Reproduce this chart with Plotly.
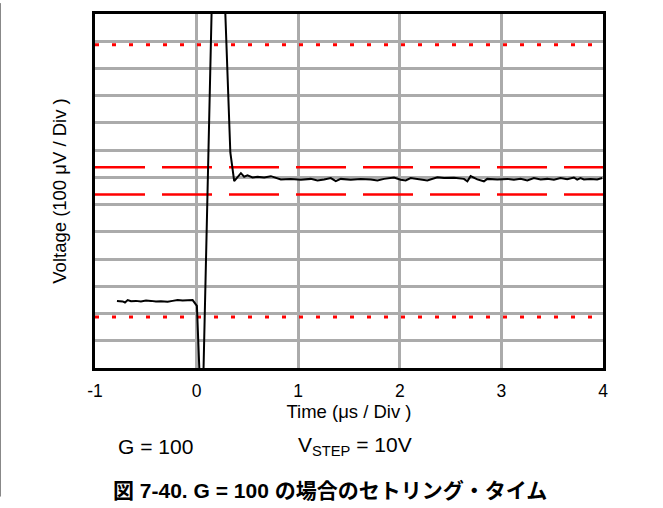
import plotly.graph_objects as go

# Output step response of the amplifier, G = 100, 10 V step.
# Time in microseconds, voltage in microvolts relative to the final value.
time_us = [
    -0.784, -0.728, -0.705, -0.678, -0.646, -0.597, -0.548, -0.498, -0.449,
    -0.400, -0.351, -0.285, -0.236, -0.187, -0.138, -0.088, -0.039,
    0.003, 0.026, 0.053, 0.211, 0.283, 0.332, 0.370,
    0.436, 0.468, 0.501, 0.550, 0.600, 0.665, 0.731, 0.780, 0.829,
    0.927, 1.026, 1.124, 1.190, 1.255, 1.321, 1.370, 1.419, 1.517, 1.616,
    1.714, 1.780, 1.845, 1.943, 2.009, 2.058, 2.107, 2.206, 2.271, 2.370,
    2.435, 2.533, 2.631, 2.665, 2.697, 2.763, 2.828, 2.861, 2.960, 3.058,
    3.123, 3.189, 3.255, 3.320, 3.386, 3.451, 3.517, 3.582, 3.648, 3.713,
    3.746, 3.779, 3.812, 3.877, 3.943, 3.992,
]
voltage_uv = [
    -441, -443, -447, -438, -442, -441, -443, -440, -441,
    -443, -442, -444, -441, -438, -440, -440, -438,
    -459, -687, -943, 1667, 612, 104, -1,
    28, 15, 20, 12, 15, 12, 17, 10, 5,
    7, 4, 7, 1, 5, 10, -1, 7, 4, 7,
    5, 1, 7, 12, 4, 1, 10, 5, 1, 13,
    10, 11, 7, -2, 17, 5, -2, 7, 5, 7,
    4, 7, 1, 10, 5, 7, 4, 10, 6, 12,
    4, 10, 5, 7, 5, 10,
]

# Settling bands (µV around the final value)
fine_band_uv = [50, -50]
coarse_band_uv = [500, -500]
band_time = [-1, 4]

x_ticks = [-1, 0, 1, 2, 3, 4]
y_range = [-687.5, 612.5]

fig = go.Figure()

for level in coarse_band_uv:
    fig.add_trace(go.Scatter(
        x=band_time, y=[level, level], mode="lines",
        line=dict(color="#ff0000", width=3, dash="4px,13px"),
        hoverinfo="skip", showlegend=False,
    ))
for level in fine_band_uv:
    fig.add_trace(go.Scatter(
        x=band_time, y=[level, level], mode="lines",
        line=dict(color="#ff0000", width=2.5, dash="50px,17px"),
        hoverinfo="skip", showlegend=False,
    ))

fig.add_trace(go.Scatter(
    x=time_us, y=voltage_uv, mode="lines",
    line=dict(color="#000000", width=2),
    showlegend=False,
))

font_main = "Liberation Sans, Arial, sans-serif"

fig.update_layout(
    width=663, height=508,
    margin=dict(l=95, r=60, t=11, b=140),
    paper_bgcolor="white", plot_bgcolor="white",
    font=dict(family=font_main, color="#000000", size=17),
    xaxis=dict(
        range=[-1, 4], tickvals=x_ticks, ticktext=[str(v) for v in x_ticks],
        showgrid=True, gridcolor="#ababab", gridwidth=2.5,
        showline=True, linecolor="#000000", linewidth=3, mirror=True,
        zeroline=False, ticks="", ticklabelstandoff=5,
        tickfont=dict(size=17.5),
        title=dict(text="Time (μs / Div )", font=dict(size=18.5), standoff=1),
    ),
    yaxis=dict(
        range=y_range, tick0=12.5, dtick=100, showticklabels=False,
        showgrid=True, gridcolor="#ababab", gridwidth=2.5,
        showline=True, linecolor="#000000", linewidth=3, mirror=True,
        zeroline=False, ticks="",
        title=dict(text="Voltage (100 μV / Div )", font=dict(size=18.5), standoff=21),
    ),
    annotations=[
        dict(text="G = 100", xref="paper", yref="paper",
             x=(155 - 95) / 508, y=(368 - 447) / 358,
             xanchor="center", yanchor="middle", showarrow=False,
             font=dict(size=21)),
        dict(text="V<sub>STEP</sub> = 10V", xref="paper", yref="paper",
             x=(296 - 95) / 508, y=(368 - 447) / 358,
             xanchor="left", yanchor="middle", showarrow=False,
             font=dict(size=21)),
        dict(text="<b>図 7-40. G = 100 の場合のセトリング・タイム</b>",
             xref="paper", yref="paper",
             x=(330 - 95) / 508, y=(368 - 492) / 358,
             xanchor="center", yanchor="middle", showarrow=False,
             font=dict(size=21, family="Liberation Sans, Noto Sans CJK JP, sans-serif")),
    ],
    shapes=[
        dict(type="line", xref="paper", yref="paper",
             x0=(0.5 - 95) / 508, x1=(0.5 - 95) / 508,
             y0=(369 - 0) / 358, y1=(369 - 499) / 358,
             line=dict(color="#888888", width=1)),
    ],
)

fig.write_html("out.html")
